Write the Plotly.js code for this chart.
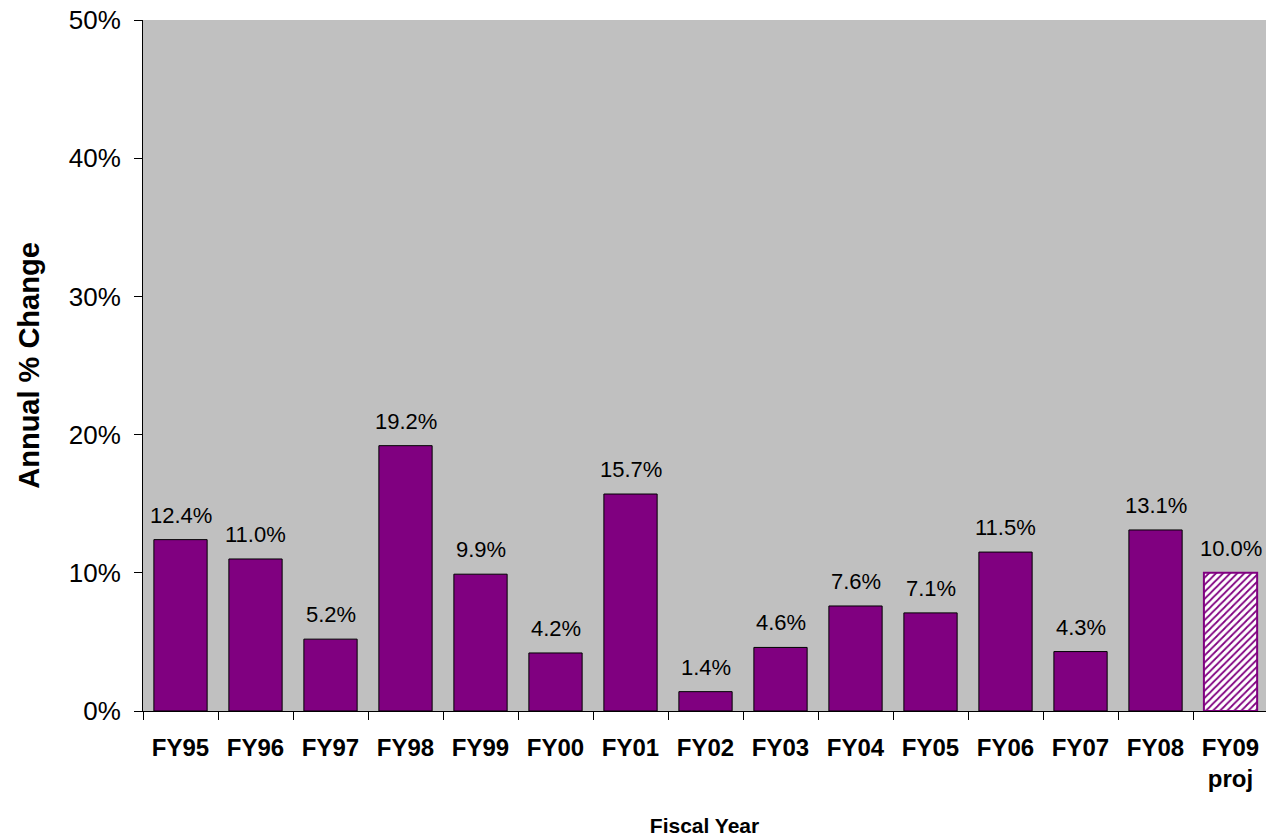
<!DOCTYPE html>
<html><head><meta charset="utf-8">
<script src="https://cdn.plot.ly/plotly-3.0.1.min.js"></script>
<style>html,body{margin:0;padding:0;overflow:hidden;background:#fff}</style>
</head><body>
<div id="chart" style="width:1266px;height:838px"></div>
<script>
const categories = ['FY95','FY96','FY97','FY98','FY99','FY00','FY01','FY02','FY03','FY04','FY05','FY06','FY07','FY08','FY09<br>proj'];
const changePct = [12.4, 11.0, 5.2, 19.2, 9.9, 4.2, 15.7, 1.4, 4.6, 7.6, 7.1, 11.5, 4.3, 13.1, 10.0];
const isProjection = [false,false,false,false,false,false,false,false,false,false,false,false,false,false,true];

const purple = '#800080';
const FONT = 'Liberation Sans, Arial, sans-serif';

const actualX = categories.filter((c, i) => !isProjection[i]);
const actualY = changePct.filter((v, i) => !isProjection[i]);
const projX = categories.filter((c, i) => isProjection[i]);
const projY = changePct.filter((v, i) => isProjection[i]);

const actualTrace = {
  type: 'bar', x: actualX, y: actualY, width: 0.71,
  marker: {color: purple, line: {color: 'black', width: 1}},
  hoverinfo: 'skip'
};
const projTrace = {
  type: 'bar', x: projX, y: projY, width: 0.71,
  marker: {
    color: 'white',
    line: {color: purple, width: 2},
    pattern: {shape: '/', fillmode: 'overlay', fgcolor: purple, fgopacity: 1, size: 5, solidity: 0.35}
  },
  hoverinfo: 'skip'
};

const annotations = categories.map((c, i) => ({
  x: c, y: changePct[i], xref: 'x', yref: 'y',
  text: changePct[i].toFixed(1) + '%',
  showarrow: false, yanchor: 'bottom', yshift: 10,
  font: {family: FONT, size: 22, color: 'black'}
}));

const layout = {
  width: 1266, height: 838,
  margin: {l: 143, r: 0, t: 20, b: 127},
  paper_bgcolor: 'white',
  plot_bgcolor: '#C0C0C0',
  showlegend: false,
  barmode: 'overlay',
  font: {family: FONT, color: 'black'},
  annotations: annotations,
  xaxis: {
    type: 'category',
    categoryorder: 'array', categoryarray: categories,
    range: [-0.5, 14.473],
    tickson: 'boundaries',
    ticks: 'outside', ticklen: 8, tickcolor: 'black',
    showline: true, linecolor: 'black', linewidth: 1,
    showgrid: false,
    tickfont: {size: 24, weight: 'bold'},
    ticklabelstandoff: 15,
    title: {text: 'Fiscal Year', font: {size: 21, weight: 'bold'}, standoff: 27}
  },
  yaxis: {
    range: [0, 50], dtick: 10, ticksuffix: '%',
    ticks: 'outside', ticklen: 8, tickcolor: 'black',
    showline: true, linecolor: 'black', linewidth: 1,
    showgrid: false, zeroline: false,
    tickfont: {size: 26},
    ticklabelstandoff: 8,
    title: {text: 'Annual % Change', font: {size: 29, weight: 'bold'}, standoff: 20}
  }
};

Plotly.newPlot('chart', [actualTrace, projTrace], layout, {staticPlot: true, displayModeBar: false});
</script>
</body></html>
